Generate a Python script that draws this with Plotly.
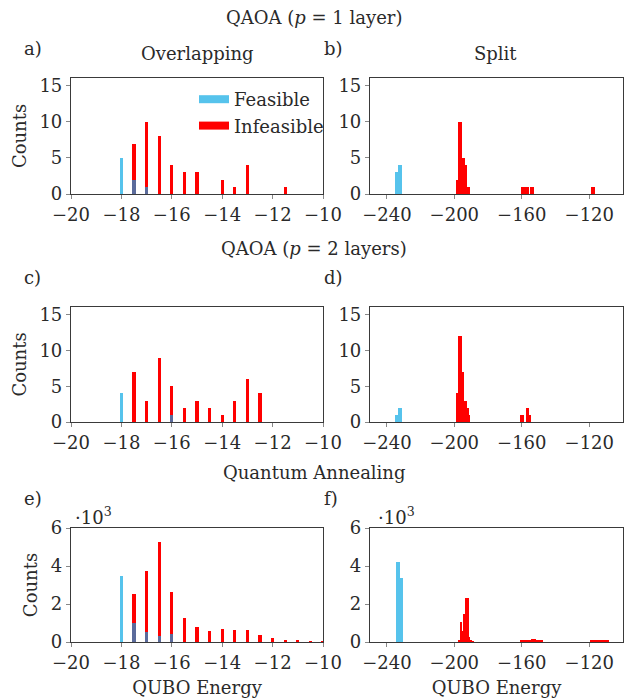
import plotly.graph_objects as go

# ---------------- data ----------------
# a) QAOA p=1, Overlapping
a_feas_x = [-18, -17.5, -17]
a_feas_y = [5, 2, 1]
a_inf_x = [-17.5, -17, -16.5, -16, -15.5, -15, -14, -13.5, -13, -11.5]
a_inf_y = [7, 10, 8, 4, 3, 3, 2, 1, 4, 1]

# b) QAOA p=1, Split
b_feas_x = [-234.5, -233.5, -232.5, -231.5]
b_feas_y = [3, 3, 4, 4]
b_inf_x = [-198, -197, -196, -195, -194, -193, -192, -191,
           -159.5, -158.5, -157.5, -156.5, -154.5, -153.5, -118, -117]
b_inf_y = [2, 10, 10, 5, 5, 4, 1, 1, 1, 1, 1, 1, 1, 1, 1, 1]

# c) QAOA p=2, Overlapping
c_feas_x = [-18, -16]
c_feas_y = [4, 1]
c_inf_x = [-17.5, -17, -16.5, -16, -15.5, -15, -14.5, -14, -13.5, -13, -12.5]
c_inf_y = [7, 3, 9, 5, 2, 3, 2, 1, 3, 6, 4]

# d) QAOA p=2, Split
d_feas_x = [-234.5, -233.5, -232.5, -231.5]
d_feas_y = [1, 1, 2, 2]
d_inf_x = [-198, -197, -196, -195, -194, -193, -192, -191,
           -160, -159, -157, -156, -155]
d_inf_y = [4, 12, 12, 7, 3, 3, 2, 1, 1, 1, 2, 2, 1]

# e) Quantum annealing, Overlapping
e_feas_x = [-18, -17.5, -17, -16.5, -16]
e_feas_y = [3470, 980, 540, 330, 420]
e_inf_x = [-17.5, -17, -16.5, -16, -15.5, -15, -14.5, -14, -13.5, -13,
           -12.5, -12, -11.5, -11, -10.5, -10]
e_inf_y = [2530, 3730, 5280, 2630, 1260, 770, 580, 680, 630, 610,
           380, 190, 90, 70, 50, 30]

# f) Quantum annealing, Split
f_feas_x = [-234, -233, -232, -231]
f_feas_y = [4210, 4210, 3390, 3390]
f_inf_x = [-197, -196, -195, -194, -193, -192, -191, -190, -189,
           -160, -159, -158, -157, -156, -155, -154, -153, -152, -151, -150, -149, -148,
           -119, -118, -117, -116, -115, -114, -113, -112, -111, -110, -109]
f_inf_y = [100, 1050, 600, 1500, 2300, 2300, 250, 80, 30,
           70, 75, 80, 90, 100, 120, 140, 150, 140, 110, 90, 75, 70,
           80, 80, 80, 80, 80, 80, 80, 80, 80, 80, 80]

row_titles = ["QAOA (<i>p</i> = 1 layer)", "QAOA (<i>p</i> = 2 layers)", "Quantum Annealing"]
col_titles = ["Overlapping", "Split"]
panel_letters = ["a)", "b)", "c)", "d)", "e)", "f)"]
legend_names = ["Feasible", "Infeasible"]
y_ticks_qaoa = [0, 5, 10, 15]
y_ticks_qa = [0, 2000, 4000, 6000]
y_ticklabels_qa = ["0", "2", "4", "6"]
x_ticks_over = [-20, -18, -16, -14, -12, -10]
x_ticks_split = [-240, -200, -160, -120]

# ---------------- style ----------------
FONT = "DejaVu Serif"
BLUE = "#56C3EC"
RED = "#FF0000"
OVER = "#5B6B9B"
AX = "#3a3a3a"
TXT = "#2a2a2a"

W, H = 630, 700
col_px = [(71, 323), (370, 623)]
row_px = [(78, 194), (307, 422), (528, 642)]

panels = [
    (a_feas_x, a_feas_y, a_inf_x, a_inf_y, 0.13),
    (b_feas_x, b_feas_y, b_inf_x, b_inf_y, 1.0),
    (c_feas_x, c_feas_y, c_inf_x, c_inf_y, 0.13),
    (d_feas_x, d_feas_y, d_inf_x, d_inf_y, 1.0),
    (e_feas_x, e_feas_y, e_inf_x, e_inf_y, 0.13),
    (f_feas_x, f_feas_y, f_inf_x, f_inf_y, 1.0),
]

fig = go.Figure()
layout = {}
annotations = []

for i, (fx, fy, ix, iy, bw) in enumerate(panels):
    r, c = divmod(i, 2)
    n = i + 1
    xa = "x" if n == 1 else f"x{n}"
    ya = "y" if n == 1 else f"y{n}"
    fig.add_trace(go.Bar(x=ix, y=iy, width=bw, marker=dict(color=RED, line=dict(width=0)),
                         xaxis=xa, yaxis=ya, showlegend=False))
    fig.add_trace(go.Bar(x=fx, y=fy, width=bw, marker=dict(color=BLUE, line=dict(width=0)),
                         xaxis=xa, yaxis=ya, showlegend=False))
    inf_map = dict(zip(ix, iy))
    ox = [x for x in fx if x in inf_map]
    oy = [min(v, inf_map[x]) for x, v in zip(fx, fy) if x in inf_map]
    if ox:
        fig.add_trace(go.Bar(x=ox, y=oy, width=bw, marker=dict(color=OVER, line=dict(width=0)),
                             xaxis=xa, yaxis=ya, showlegend=False))

    x0, x1 = col_px[c]
    y0, y1 = row_px[r]
    xdom = [x0 / W, x1 / W]
    ydom = [1 - y1 / H, 1 - y0 / H]
    xkey = "xaxis" if n == 1 else f"xaxis{n}"
    ykey = "yaxis" if n == 1 else f"yaxis{n}"
    common = dict(showline=True, linecolor=AX, linewidth=1.2, mirror=True,
                  ticks="outside", ticklen=4, tickcolor="#888", tickwidth=1,
                  showgrid=False, zeroline=False, automargin=False,
                  tickfont=dict(family=FONT, size=18, color=TXT))
    if c == 0:
        xaxis = dict(domain=xdom, range=[-20, -10], tickvals=x_ticks_over, **common)
    else:
        xaxis = dict(domain=xdom, range=[-250, -100], tickvals=x_ticks_split, **common)
    xaxis["anchor"] = ya
    if r == 2:
        xaxis["title"] = dict(text="QUBO Energy", font=dict(family=FONT, size=18, color=TXT), standoff=9)
    if r < 2:
        yaxis = dict(domain=ydom, range=[0, 16.1], tickvals=y_ticks_qaoa, **common)
    else:
        yaxis = dict(domain=ydom, range=[0, 6000], tickvals=y_ticks_qa,
                     ticktext=y_ticklabels_qa, **common)
    yaxis["anchor"] = xa
    if c == 0:
        yaxis["title"] = dict(text="Counts", font=dict(family=FONT, size=18, color=TXT), standoff=8)
    layout[xkey] = xaxis
    layout[ykey] = yaxis

    lx = 22 if c == 0 else 322
    annotations.append(dict(text=panel_letters[i], x=lx / W, y=1 - (row_px[r][0] - 30) / H,
                            xref="paper", yref="paper", xanchor="left", yanchor="middle",
                            showarrow=False, font=dict(family=FONT, size=18, color=TXT)))
    if r == 2:
        mx = 73 if c == 0 else 376
        annotations.append(dict(text="·10<sup>3</sup>", x=mx / W, y=1 - 516 / H,
                                xref="paper", yref="paper", xanchor="left", yanchor="middle",
                                showarrow=False, font=dict(family=FONT, size=18, color=TXT)))

row_title_y = [18, 248, 472]
for t, yy in zip(row_titles, row_title_y):
    annotations.append(dict(text=t, x=314 / W, y=1 - yy / H, xref="paper", yref="paper",
                            xanchor="center", yanchor="middle", showarrow=False,
                            font=dict(family=FONT, size=18, color=TXT)))
for t, xx in zip(col_titles, [197, 495]):
    annotations.append(dict(text=t, x=xx / W, y=1 - 53 / H, xref="paper", yref="paper",
                            xanchor="center", yanchor="middle", showarrow=False,
                            font=dict(family=FONT, size=18, color=TXT)))

for name, col in zip(legend_names, [BLUE, RED]):
    fig.add_trace(go.Scatter(x=[None], y=[None], mode="lines", name=name,
                             line=dict(color=col, width=8), xaxis="x", yaxis="y"))

fig.update_layout(
    width=W, height=H, margin=dict(l=0, r=0, t=0, b=0, autoexpand=False),
    paper_bgcolor="white", plot_bgcolor="white",
    barmode="overlay", bargap=0,
    showlegend=True,
    legend=dict(x=194 / W, y=1 - 81 / H, xanchor="left", yanchor="top",
                bgcolor="rgba(0,0,0,0)", font=dict(family=FONT, size=18, color=TXT),
                itemwidth=30, tracegroupgap=0),
    annotations=annotations,
    **layout,
)

fig.write_html("out.html")
